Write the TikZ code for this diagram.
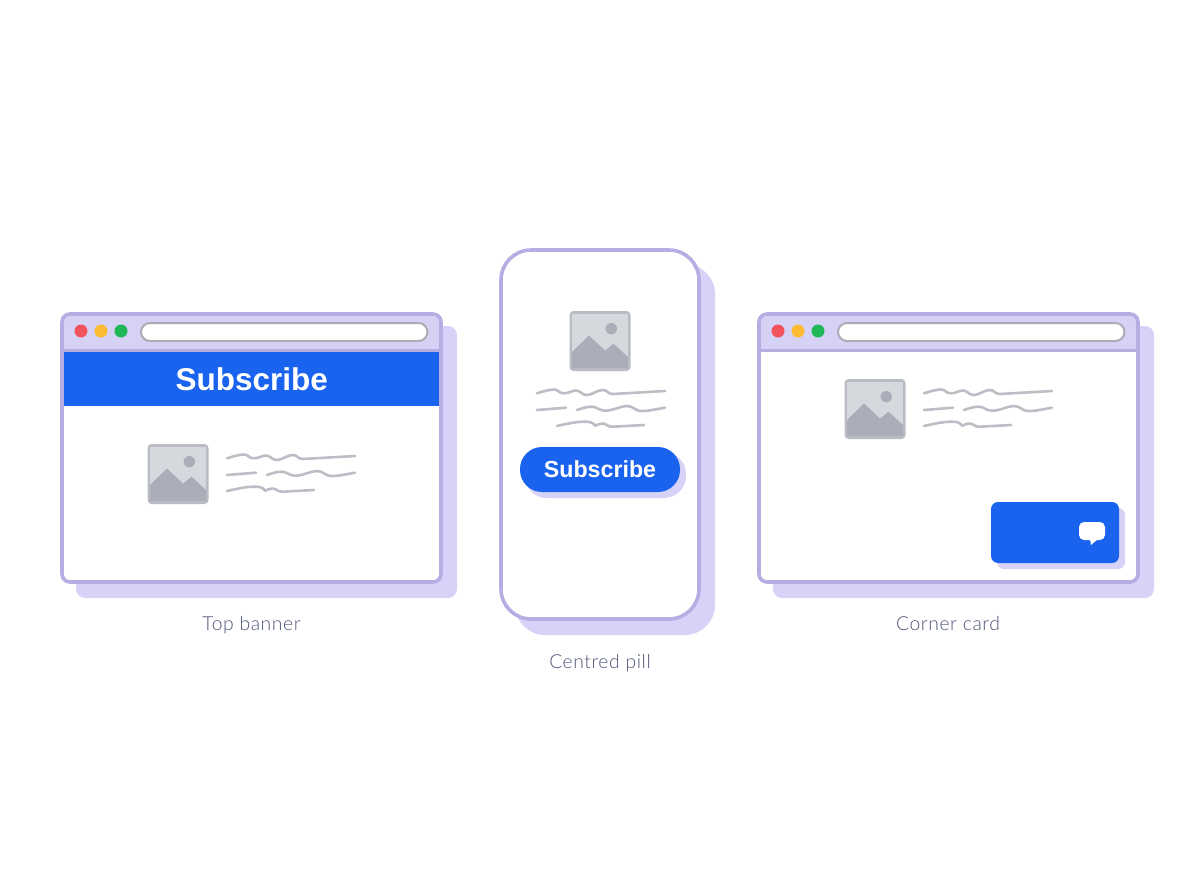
\documentclass[tikz,border=0pt]{standalone}
\usepackage{fontspec}
\setmainfont{Liberation Sans}
\newfontfamily\labelfont[LetterSpace=3]{Lato Light}
\usetikzlibrary{positioning}
\definecolor{framec}{HTML}{B6AEE3}
\definecolor{shadowc}{HTML}{D7D3F8}
\definecolor{titlec}{HTML}{D6D2F5}
\definecolor{bluec}{HTML}{1A63EF}
\definecolor{greyline}{HTML}{BCBEC5}
\definecolor{imgframe}{HTML}{B9BCC4}
\definecolor{imgback}{HTML}{D5D8DC}
\definecolor{imgfront}{HTML}{ABAEB8}
\definecolor{labelc}{HTML}{4F5579}
\definecolor{dotred}{HTML}{F1545C}
\definecolor{dotyellow}{HTML}{FBBC33}
\definecolor{dotgreen}{HTML}{20B857}
\definecolor{urlc}{HTML}{ABABB5}
\tikzset{
	captiontext/.style={text=labelc, anchor=base, font=\labelfont\fontsize{19.3}{23}\selectfont},
	cta/.style={fill=bluec, text=white, font=\bfseries\fontsize{#1}{#1}\selectfont, inner sep=0pt},
	squiggle/.style={draw=greyline, line width=2.6pt, line cap=round, line join=round},
	pics/picicon/.style={code={
		\fill[imgframe, rounded corners=4pt] (0,0) rectangle (61,60);
		\fill[imgback] (2.5,2.5) rectangle (58.5,57.5);
		\fill[imgfront] (2.5,41) -- (19.5,24.5) -- (35.5,39.5) -- (44,32.7) -- (58.5,46) -- (58.5,57.5) -- (2.5,57.5) -- cycle;
		\fill[imgfront] (41.8,17.7) circle (5.7);
	}},
	pics/textlines/.style={code={
		\draw[squiggle] (0,4.3) .. controls (6,2.5) and (12,0.5) .. (17,0.5) .. controls (22,0.5) and (21,4.3) .. (27,4.3) .. controls (32,4.3) and (35,1.5) .. (39,1.5) .. controls (44,1.5) and (44,6) .. (50,6) .. controls (55,6) and (60,1) .. (66,1) .. controls (71,1) and (70,5) .. (76,5) -- (128,2);
		\draw[squiggle] (0,21) -- (29,18.7);
		\draw[squiggle] (40,21) .. controls (46,19) and (50,17.7) .. (55,17.7) .. controls (60,17.7) and (62,21.7) .. (68,21.7) .. controls (76,21.7) and (84,17) .. (90,17) .. controls (97,17) and (97,22) .. (105,22) .. controls (113,22) and (120,20) .. (128,18.7);
		\begin{scope}[xshift=#1]
		\draw[squiggle] (0,37) .. controls (9,35) and (19,32.7) .. (27,32.7) .. controls (32,32.7) and (36,33) .. (38,36.7) .. controls (42,35) and (46,33.5) .. (49,35.5) .. controls (51,37.5) and (53,37.7) .. (56,37.7) -- (87,36);
		\end{scope}
	}},
	pics/browser/.style={code={
		\fill[shadowc, rounded corners=9pt] (16,14) rectangle (397,286);
		\fill[white, rounded corners=8pt] (2,2) rectangle (381,270);
		\fill[titlec, rounded corners=7pt] (2,38) -- (2,2) -- (381,2) -- (381,38);
		\fill[titlec] (2,20) rectangle (381,38);
		\draw[framec, line width=3pt] (2,38) -- (381,38);
		\draw[framec, line width=3.6pt, rounded corners=8pt] (2,2) rectangle (381,270);
		\fill[dotred] (21,19) circle (6.5);
		\fill[dotyellow] (41,19) circle (6.5);
		\fill[dotgreen] (61,19) circle (6.5);
		\draw[fill=white, draw=urlc, line width=2pt, rounded corners=9pt] (81,11) rectangle (367.5,29);
	}}
}
\begin{document}
\begin{tikzpicture}[x=1pt, y=-1pt]
	\useasboundingbox (0,0) rectangle (1200,896);

	% left window
	\pic at (60,312) {browser};
	\node[cta=31.5, minimum width=375pt, minimum height=54pt, anchor=north west] (BANNER) at (64,352) {Subscribe};
	\pic at (147.5,444) {picicon};
	\pic at (227,454) {textlines=0};
	\node[captiontext] (TOP) at (251.5,630) {Top banner};

	% phone
	\fill[shadowc, rounded corners=30pt] (515,264) rectangle (715,635);
	\draw[framec, fill=white, line width=3.6pt, rounded corners=30pt] (501,250) rectangle (699,619);
	\pic at (569.5,311) {picicon};
	\pic at (537,389) {textlines=20};
	\fill[shadowc, rounded corners=22pt] (525,452) rectangle (686,498);
	\node[cta=23.2, minimum width=160pt, minimum height=45pt, rounded corners=22pt] (PILL) at (600,469.5) {Subscribe};
	\node[captiontext] (CENTRE) at (600,668) {Centred pill};

	% right window
	\pic at (757,312) {browser};
	\pic at (844.5,379) {picicon};
	\pic at (924,389) {textlines=0};
	\fill[shadowc, rounded corners=7pt] (997,508) rectangle (1125,569);
	\node[fill=bluec, minimum width=128pt, minimum height=61pt, rounded corners=7pt, inner sep=0pt] (CARD) at (1055,532.5) {};
	\fill[white, rounded corners=5pt] (1079,522) rectangle (1105,540);
	\fill[white] (1090,539) -- (1091,545) -- (1098,539) -- cycle;
	\node[captiontext] (CORNER) at (948,630) {Corner card};
\end{tikzpicture}
\end{document}
